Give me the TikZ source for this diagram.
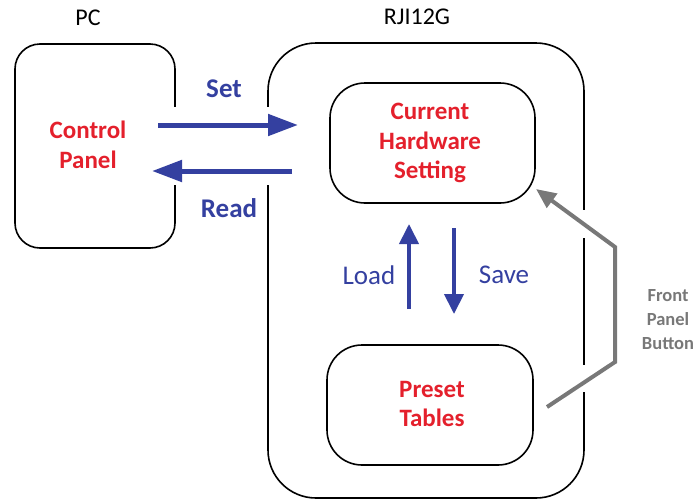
\documentclass[tikz,border=0pt]{standalone}
\usepackage{fontspec}
\setmainfont{Carlito}
\usetikzlibrary{arrows.meta}
\definecolor{arrowblue}{RGB}{52,64,160}
\definecolor{labelred}{RGB}{228,32,44}
\definecolor{btngray}{RGB}{120,120,120}
\tikzset{
  box/.style={draw=black, line width=1.6pt, rounded corners=#1},
  title/.style={font=\fontsize{24}{26}\selectfont, text=black},
  redtext/.style={font=\bfseries\fontsize{25}{29.5}\selectfont, text=labelred, align=center},
  bluebold/.style={font=\bfseries\fontsize{27}{28}\selectfont, text=arrowblue},
  bluereg/.style={font=\fontsize{27}{28}\selectfont, text=arrowblue},
  flowh/.style={draw=arrowblue, line width=5pt, -{Triangle[length=30pt,width=21pt]}},
  flowv/.style={draw=arrowblue, line width=4pt, -{Triangle[length=20pt,width=19pt]}},
  grayflow/.style={draw=btngray, line width=4pt, -{Triangle[length=20pt,width=17pt]}},
  graytext/.style={font=\bfseries\fontsize{18.5}{24}\selectfont, text=btngray, align=center},
  gap/.style={fill=white, draw=none}
}
\begin{document}
\begin{tikzpicture}[x=1pt,y=-1pt]
\useasboundingbox (0,0) rectangle (698,501);
% outer boxes
\draw[box=25pt] (15,44) rectangle (175,248);
\draw[box=48pt] (268,43) rectangle (584,498);
% gaps in borders where arrows pass
\fill[gap] (170,107) rectangle (180,185);
\fill[gap] (263,107) rectangle (273,185);
\fill[gap] (579,210) rectangle (589,238);
\fill[gap] (579,365) rectangle (589,392);
% inner boxes
\node[box=35pt, minimum width=205pt, minimum height=120pt] (chs) at (432.5,143) {};
\node[box=35pt, minimum width=206pt, minimum height=120pt] (pt) at (430,405) {};
% titles
\node[title] (pc) at (88,18) {PC};
\node[title] (rj) at (417,17) {RJI12G};
% texts
\node[redtext] (cp) at (88,145) {Control\\Panel};
\node[redtext] (chstext) at (430,143) {Current\\Hardware\\Setting};
\node[redtext] (pttext) at (432,404) {Preset\\Tables};
\node[bluebold] (set) at (224,89) {Set};
\node[bluebold] (read) at (229,208) {Read};
\node[bluereg] (load) at (369,275) {Load};
\node[bluereg] (save) at (504,275) {Save};
\node[graytext] (fpb) at (668,320) {Front\\Panel\\Button};
% arrows
\coordinate (setA) at (158,125);
\coordinate (setB) at (298,125);
\coordinate (readA) at (292,171);
\coordinate (readB) at (152,171);
\draw[flowh] (setA) -- (setB);
\draw[flowh] (readA) -- (readB);
\coordinate (loadA) at (409,309);
\coordinate (loadB) at (409,224);
\coordinate (saveA) at (454,228);
\coordinate (saveB) at (454,314);
\draw[flowv] (loadA) -- (loadB);
\draw[flowv] (saveA) -- (saveB);
\coordinate (g0) at (547,407);
\coordinate (g1) at (615,362);
\coordinate (g2) at (615,247);
\coordinate (g3) at (536,189);
\draw[grayflow] (g0) -- (g1) -- (g2) -- (g3);
\end{tikzpicture}
\end{document}
